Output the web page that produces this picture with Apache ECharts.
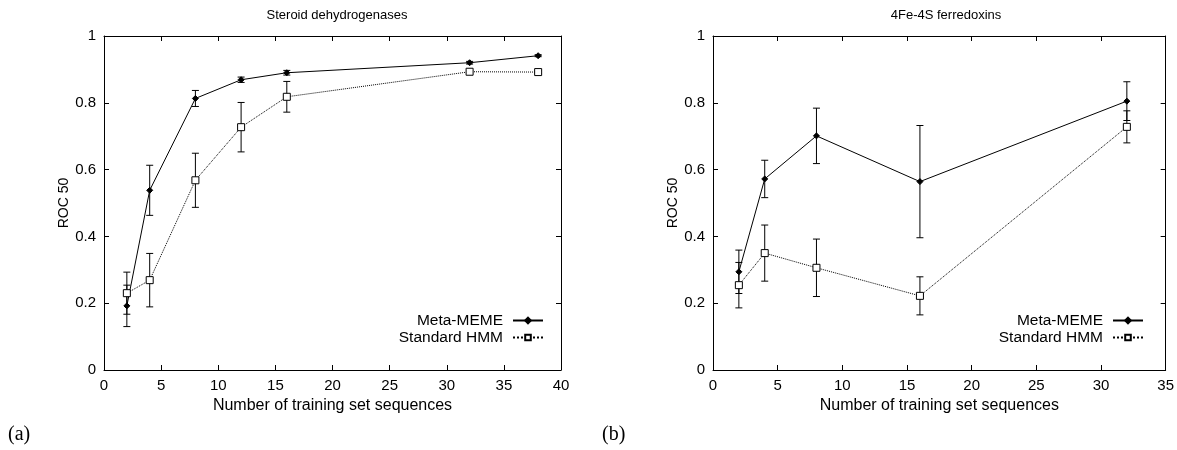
<!DOCTYPE html>
<html>
<head>
<meta charset="utf-8">
<script src="https://cdn.jsdelivr.net/npm/echarts@6/dist/echarts.min.js"></script>
<style>
html,body{margin:0;padding:0;background:#fff;}
#c{width:1177px;height:450px;}
</style>
</head>
<body>
<div id="c"></div>
<script>
// ---- Data ----
const steroidX = [2, 4, 8, 12, 16, 32, 38];
const steroidMeme = [0.192, 0.538, 0.813, 0.869, 0.890, 0.920, 0.941];
const steroidMemeErr = [0.062, 0.075, 0.024, 0.008, 0.007, 0.004, 0.003];
const steroidHmm = [0.230, 0.269, 0.568, 0.727, 0.818, 0.893, 0.892];
const steroidHmmErr = [0.063, 0.080, 0.081, 0.074, 0.046, 0.004, 0.004];

const ferroX = [2, 4, 8, 16, 32];
const ferroMeme = [0.294, 0.572, 0.701, 0.564, 0.805];
const ferroMemeErr = [0.065, 0.056, 0.083, 0.168, 0.058];
const ferroHmm = [0.254, 0.350, 0.306, 0.222, 0.728];
const ferroHmmErr = [0.068, 0.084, 0.086, 0.057, 0.048];

const seriesNames = ['Meta-MEME', 'Standard HMM'];
const titles = ['Steroid dehydrogenases', '4Fe-4S ferredoxins'];
const xAxisName = 'Number of training set sequences';
const yAxisName = 'ROC 50';
const panelLabels = ['(a)', '(b)'];

// ---- Chart ----
const FONT = "'Liberation Sans', Arial, Helvetica, sans-serif";
const chart = echarts.init(document.getElementById('c'));

function pts(xs, ys) { return xs.map((x, i) => [x, ys[i]]); }
function errs(xs, ys, es) { return xs.map((x, i) => [x, ys[i] - es[i], ys[i] + es[i]]); }

function renderErr(params, api) {
  const x = api.value(0);
  const lo = api.coord([x, api.value(1)]);
  const hi = api.coord([x, api.value(2)]);
  const w = 3.5;
  const st = { stroke: '#000', lineWidth: 1 };
  return {
    type: 'group',
    children: [
      { type: 'line', shape: { x1: lo[0], y1: lo[1], x2: hi[0], y2: hi[1] }, style: st },
      { type: 'line', shape: { x1: lo[0] - w, y1: lo[1], x2: lo[0] + w, y2: lo[1] }, style: st },
      { type: 'line', shape: { x1: hi[0] - w, y1: hi[1], x2: hi[0] + w, y2: hi[1] }, style: st }
    ]
  };
}

const axisCommon = {
  axisLine: { show: true, onZero: false, lineStyle: { color: '#000', width: 1 } },
  axisTick: { show: true, inside: true, length: 5, lineStyle: { color: '#000' } },
  splitLine: { show: false },
  axisLabel: { color: '#000', fontSize: 15, fontFamily: FONT }
};

function xAx(grid, max, pos, showLabel) {
  return Object.assign({}, axisCommon, {
    type: 'value', gridIndex: grid, min: 0, max: max, interval: 5, position: pos,
    axisLabel: Object.assign({}, axisCommon.axisLabel, { show: showLabel, margin: 8 }),
    name: showLabel ? xAxisName : '', nameLocation: 'middle', nameGap: 23,
    nameTextStyle: { color: '#000', fontSize: 16, fontFamily: FONT }
  });
}
function yAx(grid, pos, showLabel) {
  return Object.assign({}, axisCommon, {
    type: 'value', gridIndex: grid, min: 0, max: 1, interval: 0.2, position: pos,
    axisLabel: Object.assign({}, axisCommon.axisLabel, { show: showLabel, margin: 8 }),
    name: showLabel ? yAxisName : '', nameLocation: 'middle', nameGap: 33,
    nameTextStyle: { color: '#000', fontSize: 14, fontFamily: FONT }
  });
}

function lineSeries(name, xi, yi, data, dotted) {
  return {
    type: 'line', name: name, xAxisIndex: xi, yAxisIndex: yi, data: data,
    symbol: dotted ? 'rect' : 'diamond', symbolSize: dotted ? 7 : 6,
    lineStyle: { color: '#000', width: 1, type: dotted ? 'dotted' : 'solid' },
    itemStyle: dotted ? { color: '#fff', borderColor: '#000', borderWidth: 1 } : { color: '#000', borderColor: '#000', borderWidth: 1 },
    z: 3, animation: false, emphasis: { disabled: true }
  };
}
function errSeries(xi, yi, data) {
  return {
    type: 'custom', name: 'err', xAxisIndex: xi, yAxisIndex: yi, data: data,
    renderItem: renderErr, encode: { x: 0, y: [1, 2] }, z: 2, animation: false, silent: true
  };
}

const legendCommon = {
  data: seriesNames, orient: 'vertical', align: 'right', itemWidth: 30, itemHeight: 7, itemGap: 0,
  padding: 0,
  textStyle: { color: '#000', fontSize: 15.5, lineHeight: 17, fontFamily: FONT, padding: [0, 5, 0, 0] },
  selectedMode: false, inactiveColor: '#000'
};

const option = {
  backgroundColor: '#fff',
  animation: false,
  title: [
    { text: titles[0], left: 332, top: 4, textAlign: 'center', textStyle: { color: '#000', fontSize: 13, fontWeight: 'normal', fontFamily: FONT } },
    { text: titles[1], left: 941, top: 4, textAlign: 'center', textStyle: { color: '#000', fontSize: 13, fontWeight: 'normal', fontFamily: FONT } },
    { text: panelLabels[0], left: 3, top: 420, textStyle: { color: '#000', fontSize: 20, fontWeight: 'normal', fontFamily: "'Liberation Serif', 'Times New Roman', serif" } },
    { text: panelLabels[1], left: 597, top: 420, textStyle: { color: '#000', fontSize: 20, fontWeight: 'normal', fontFamily: "'Liberation Serif', 'Times New Roman', serif" } }
  ],
  grid: [
    { left: 104, top: 36, width: 457, height: 334 },
    { left: 713, top: 36, width: 456, height: 334 }
  ],
  xAxis: [ xAx(0, 40, 'bottom', true), xAx(0, 40, 'top', false), xAx(1, 35, 'bottom', true), xAx(1, 35, 'top', false) ],
  yAxis: [ yAx(0, 'left', true), yAx(0, 'right', false), yAx(1, 'left', true), yAx(1, 'right', false) ],
  legend: [
    Object.assign({}, legendCommon, { right: 1177 - 544, top: 312 }),
    Object.assign({}, legendCommon, { right: 1177 - 1144, top: 312 })
  ],
  series: [
    errSeries(0, 0, errs(steroidX, steroidMeme, steroidMemeErr)),
    errSeries(0, 0, errs(steroidX, steroidHmm, steroidHmmErr)),
    lineSeries(seriesNames[0], 0, 0, pts(steroidX, steroidMeme), false),
    lineSeries(seriesNames[1], 0, 0, pts(steroidX, steroidHmm), true),
    errSeries(2, 2, errs(ferroX, ferroMeme, ferroMemeErr)),
    errSeries(2, 2, errs(ferroX, ferroHmm, ferroHmmErr)),
    lineSeries(seriesNames[0], 2, 2, pts(ferroX, ferroMeme), false),
    lineSeries(seriesNames[1], 2, 2, pts(ferroX, ferroHmm), true)
  ]
};
chart.setOption(option);
</script>
</body>
</html>
